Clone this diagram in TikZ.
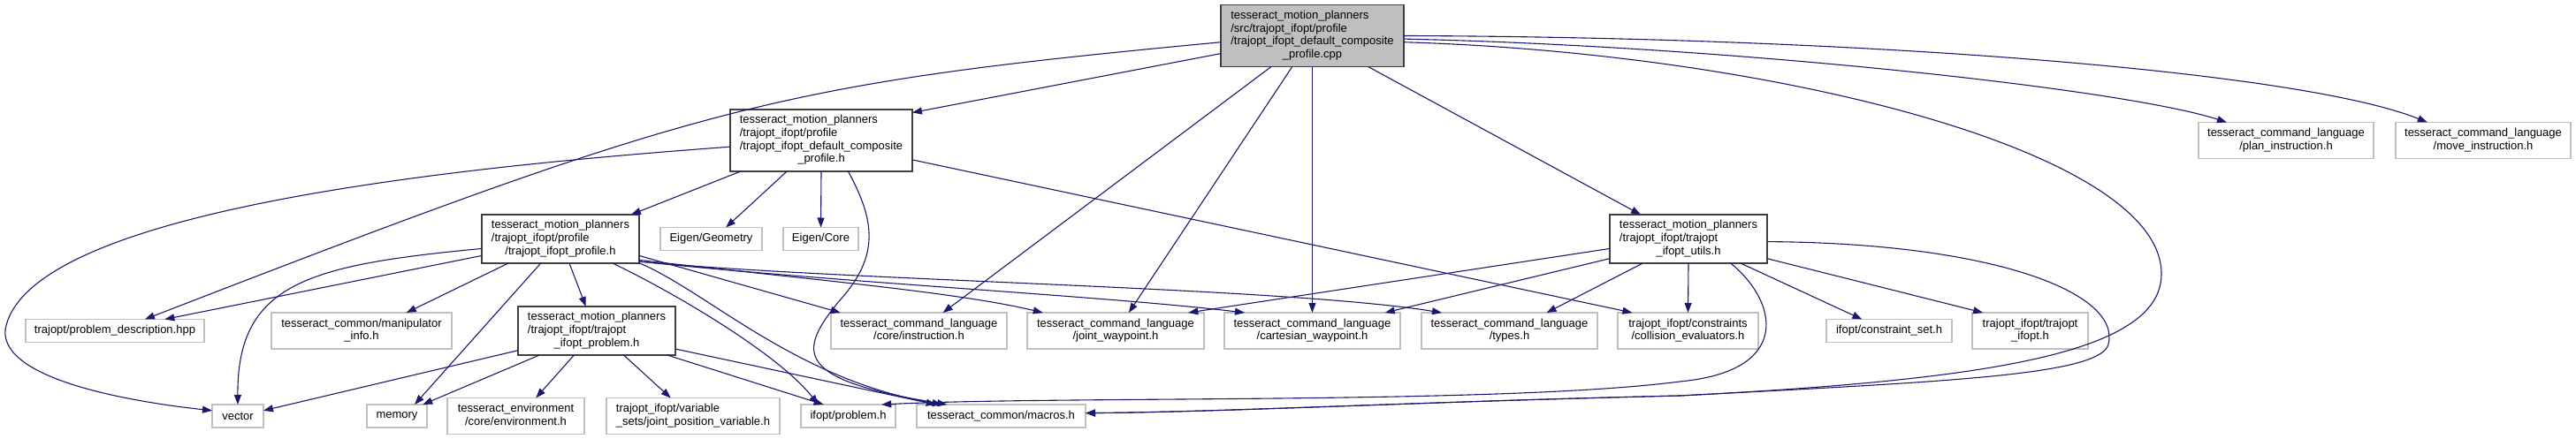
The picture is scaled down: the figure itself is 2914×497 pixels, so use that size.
\documentclass[tikz,border=0pt]{standalone}
\usepackage{fontspec}
\setmainfont{Liberation Sans}
\usetikzlibrary{arrows.meta,positioning}
\definecolor{dxblue}{RGB}{25,25,112}
\definecolor{dxgray}{RGB}{191,191,191}
\definecolor{dxdark}{RGB}{64,64,64}
\definecolor{dxfill}{RGB}{191,191,191}
\newcommand{\doxfont}{\fontsize{13}{14.67}\selectfont}
\newcommand{\dlab}[2]{\begin{tabular}{@{}l@{}}#1\\\multicolumn{1}{@{}c@{}}{#2}\end{tabular}}
\tikzset{
  dnode/.style={draw=dxdark, line width=1.3pt, fill=white, inner sep=0pt, outer sep=0pt,
    font=\doxfont},
  droot/.style={dnode, fill=dxfill},
  dext/.style={draw=dxgray, line width=1.3pt, fill=white, inner sep=0pt, outer sep=0pt,
    font=\doxfont},
  one/.style={minimum height=26pt},
  two/.style={minimum height=41pt},
  three/.style={minimum height=55pt},
  four/.style={minimum height=70pt},
  incl/.style={-{Triangle[length=11pt,width=8pt]}, draw=dxblue, line width=1.1pt}
}
\begin{document}
\begin{tikzpicture}[x=1pt,y=-1pt]
    \useasboundingbox (0,0) rectangle (2914,497);

    \node[droot,four,minimum width=207pt] (root) at (1484.5,40.5) {\dlab{tesseract\_motion\_planners\\/src/trajopt\_ifopt/profile\\/trajopt\_ifopt\_default\_composite}{\_profile.cpp}};
    \node[dnode,four,minimum width=206pt] (defcomp) at (929,159) {\dlab{tesseract\_motion\_planners\\/trajopt\_ifopt/profile\\/trajopt\_ifopt\_default\_composite}{\_profile.h}};
    \node[dext,two,minimum width=198pt] (planinstr) at (2586,159) {\dlab{tesseract\_command\_language}{/plan\_instruction.h}};
    \node[dext,two,minimum width=198pt,right=25pt of planinstr] (moveinstr) {\dlab{tesseract\_command\_language}{/move\_instruction.h}};

    \node[dnode,three,minimum width=178pt] (profile) at (634,270.5) {\dlab{tesseract\_motion\_planners\\/trajopt\_ifopt/profile}{/trajopt\_ifopt\_profile.h}};
    \node[dext,one,minimum width=115pt,right=24pt of profile] (eigengeo) {Eigen/Geometry};
    \node[dext,one,minimum width=85pt,right=24pt of eigengeo] (eigencore) {Eigen/Core};
    \node[dnode,three,minimum width=178pt] (utils) at (1910,270.5) {\dlab{tesseract\_motion\_planners\\/trajopt\_ifopt/trajopt}{\_ifopt\_utils.h}};

    \node[dext,one,minimum width=202pt] (probdesc) at (130,374.5) {trajopt/problem\_description.hpp};
    \node[dext,two,minimum width=204pt,right=76pt of probdesc] (manip) {\dlab{tesseract\_common/manipulator}{\_info.h}};
    \node[dnode,three,minimum width=178pt] (problem) at (675,374.5) {\dlab{tesseract\_motion\_planners\\/trajopt\_ifopt/trajopt}{\_ifopt\_problem.h}};
    \node[dext,two,minimum width=199pt] (instruction) at (1039.5,374.5) {\dlab{tesseract\_command\_language}{/core/instruction.h}};
    \node[dext,two,minimum width=200pt,right=23pt of instruction] (jointwp) {\dlab{tesseract\_command\_language}{/joint\_waypoint.h}};
    \node[dext,two,minimum width=199pt,right=23pt of jointwp] (cartwp) {\dlab{tesseract\_command\_language}{/cartesian\_waypoint.h}};
    \node[dext,two,minimum width=199pt,right=24pt of cartwp] (types) {\dlab{tesseract\_command\_language}{/types.h}};
    \node[dext,two,minimum width=159pt,right=23pt of types] (collision) {\dlab{trajopt\_ifopt/constraints}{/collision\_evaluators.h}};
    \node[dext,one,minimum width=142pt,right=77pt of collision] (constrset) {ifopt/constraint\_set.h};
    \node[dext,two,minimum width=131pt,right=23pt of constrset] (trajifopt) {\dlab{trajopt\_ifopt/trajopt}{\_ifopt.h}};

    \node[dext,one,minimum width=58pt] (vector) at (269,471) {vector};
    \node[dext,one,minimum width=68pt,right=117pt of vector] (memory) {memory};
    \node[dext,two,minimum width=155pt,right=23pt of memory] (environment) {\dlab{tesseract\_environment}{/core/environment.h}};
    \node[dext,two,minimum width=196pt,right=25pt of environment] (jointposvar) {\dlab{trajopt\_ifopt/variable}{\_sets/joint\_position\_variable.h}};
    \node[dext,one,minimum width=107pt,right=24pt of jointposvar] (ifoptproblem) {ifopt/problem.h};
    \node[dext,one,minimum width=191pt,right=24pt of ifoptproblem] (macros) {tesseract\_common/macros.h};

    \draw[incl] (root.191) -- (defcomp.17);
    \draw[incl] (root.184) .. controls (880,95) and (800,115) .. (probdesc.21);
    \draw[incl] (root.217) -- (instruction.37);
    \draw[incl] (root.237) -- (jointwp.54);
    \draw[incl] (root.south) -- (cartwp.north);
    \draw[incl] (root.-29) -- (utils.153);
    \draw[incl] (root.east) .. controls (2100,42) and (2600,80) .. (moveinstr.162);
    \draw[incl] (root.-2) .. controls (1950,52) and (2400,100) .. (planinstr.163);
    \draw[incl] (root.-4) .. controls (2000,60) and (2445,170) .. (2445,310)
      .. controls (2445,400) and (2250,430) .. (1900,448)
      .. controls (1600,455) and (1400,466) .. (macros.2);

    \draw[incl] (defcomp.201) -- (profile.19);
    \draw[incl] (defcomp.222) -- (eigengeo.38);
    \draw[incl] (defcomp.south) -- (eigencore.north);
    \draw[incl] (defcomp.-49) .. controls (990,250) and (995,290) .. (950,340)
      .. controls (900,400) and (900,430) .. (macros.168);
    \draw[incl] (defcomp.184) .. controls (500,190) and (30,240) .. (6,373)
      .. controls (0,430) and (150,455) .. (vector.168);
    \draw[incl] (defcomp.-12) -- (collision.162);

    \draw[incl] (profile.192) -- (probdesc.13);
    \draw[incl] (profile.187) .. controls (350,300) and (268,320) .. (vector.north);
    \draw[incl] (profile.205) -- (manip.22);
    \draw[incl] (profile.231) -- (memory.33);
    \draw[incl] (profile.-70) -- (problem.114);
    \draw[incl] (profile.-25) .. controls (760,330) and (880,400) .. (ifoptproblem.159);
    \draw[incl] (profile.-17) .. controls (800,330) and (900,430) .. (macros.169);
    \draw[incl] (profile.-12) -- (instruction.167);
    \draw[incl] (profile.-15) .. controls (900,315) and (1080,330) .. (jointwp.166);
    \draw[incl] (profile.-16) .. controls (950,320) and (1250,335) .. (cartwp.165);
    \draw[incl] (profile.-16) .. controls (950,318) and (1450,325) .. (types.165);

    \draw[incl] (problem.194) -- (vector.12);
    \draw[incl] (problem.203) -- (memory.24);
    \draw[incl] (problem.227) -- (environment.42);
    \draw[incl] (problem.-42) -- (jointposvar.141);
    \draw[incl] (problem.-19) -- (ifoptproblem.155);
    \draw[incl] (problem.-13) -- (macros.170);

    \draw[incl] (utils.187) -- (jointwp.14);
    \draw[incl] (utils.194) -- (cartwp.14);
    \draw[incl] (utils.208) -- (types.26);
    \draw[incl] (utils.south) -- (collision.north);
    \draw[incl] (utils.-25) -- (constrset.157);
    \draw[incl] (utils.-14) -- (trajifopt.159);
    \draw[incl] (utils.-30) .. controls (2010,340) and (2030,420) .. (1900,432)
      .. controls (1700,458) and (1200,448) .. (ifoptproblem.19);
    \draw[incl] (utils.-2) .. controls (2250,275) and (2400,330) .. (2385,390)
      .. controls (2375,425) and (2200,432) .. (1900,448)
      .. controls (1600,455) and (1400,466) .. (macros.2);
  \end{tikzpicture}
\end{document}
